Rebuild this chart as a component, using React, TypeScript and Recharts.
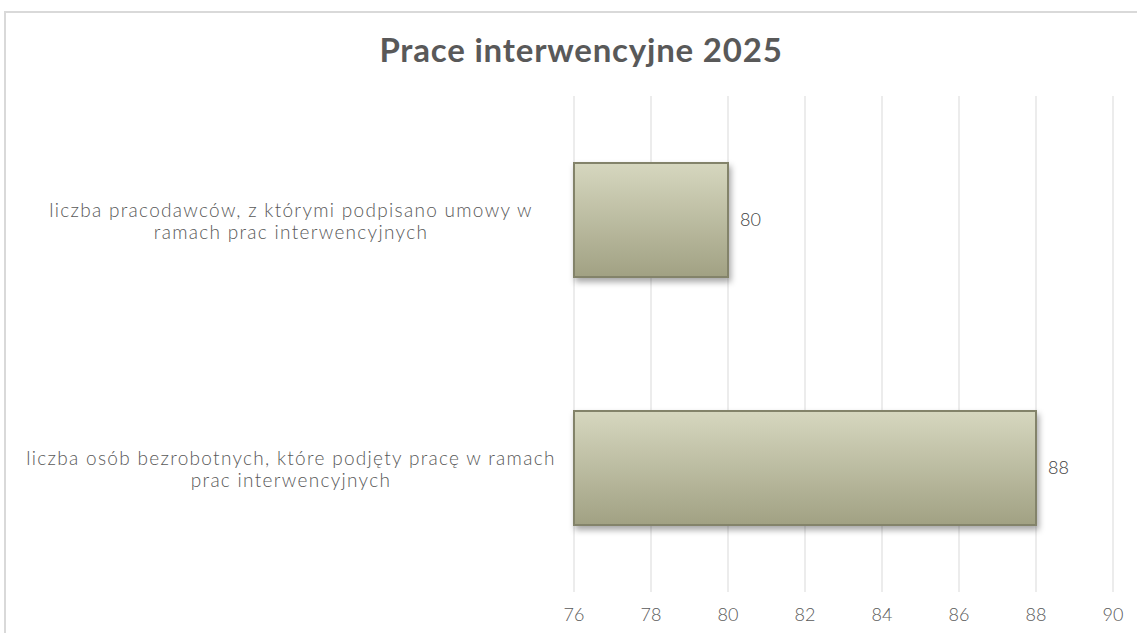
import { BarChart, Bar, XAxis, YAxis, CartesianGrid, LabelList } from 'recharts'

const categories = [
  'liczba pracodawców, z którymi podpisano umowy w|ramach prac interwencyjnych',
  'liczba osób bezrobotnych, które podjęty pracę w ramach|prac interwencyjnych',
]
const values = [80, 88]
const xTicks = [76, 78, 80, 82, 84, 86, 88, 90]

const FONT = 'Lato, "DejaVu Sans", sans-serif'
const GREY = '#595959'

const chartData = categories.map((name, i) => ({ name, value: values[i] }))

function CategoryTick({ y, payload }: any) {
  const lines = String(payload.value).split('|')
  return (
    <text
      x={291}
      y={y}
      textAnchor="middle"
      fontFamily={FONT}
      fontWeight={300}
      fontSize={19}
      letterSpacing={1.3}
      fill={GREY}
    >
      {lines.map((line, i) => (
        <tspan key={i} x={291} dy={i === 0 ? -3 : 22}>
          {line}
        </tspan>
      ))}
    </text>
  )
}

export default function App() {
  return (
    <div style={{ position: 'absolute', left: 0, top: 0, width: 1137, height: 633, overflow: 'hidden', background: '#fff' }}>
      <div
        style={{
          position: 'absolute',
          left: 4,
          top: 11,
          width: 1200,
          height: 700,
          border: '2px solid #d9d9d9',
          boxSizing: 'border-box',
        }}
      />
      <div
        style={{
          position: 'absolute',
          left: 0,
          top: 29,
          width: 1162,
          textAlign: 'center',
          fontFamily: FONT,
          fontWeight: 700,
          fontSize: 33,
          letterSpacing: 0.8,
          color: GREY,
        }}
      >
        Prace interwencyjne 2025
      </div>
      <div style={{ position: 'absolute', left: 0, top: 0 }}>
        <BarChart
          width={1137}
          height={633}
          data={chartData}
          layout="vertical"
          margin={{ top: 96, right: 24, left: 0, bottom: 0 }}
          barCategoryGap={67}
        >
          <defs>
            <linearGradient id="barFill" x1="0" y1="0" x2="0" y2="1">
              <stop offset="0%" stopColor="#d6d7bf" />
              <stop offset="100%" stopColor="#a1a183" />
            </linearGradient>
            <filter id="barShadow" x="-5%" y="-10%" width="115%" height="130%">
              <feDropShadow dx="2" dy="4" stdDeviation="3" floodColor="#000" floodOpacity="0.35" />
            </filter>
          </defs>
          <CartesianGrid horizontal={false} stroke="#d9d9d9" />
          <XAxis
            type="number"
            domain={[76, 90]}
            ticks={xTicks}
            axisLine={false}
            tickLine={false}
            height={41}
            tickMargin={10}
            tick={{ fill: GREY, fontSize: 18, fontFamily: FONT, fontWeight: 300 }}
          />
          <YAxis
            type="category"
            dataKey="name"
            width={574}
            axisLine={false}
            tickLine={false}
            tick={<CategoryTick />}
          />
          <Bar
            dataKey="value"
            fill="url(#barFill)"
            stroke="#83836a"
            strokeWidth={2}
            filter="url(#barShadow)"
            isAnimationActive={false}
          >
            <LabelList
              dataKey="value"
              position="right"
              offset={12}
              fill="#404040"
              fontSize={18}
              fontWeight={300}
              fontFamily={FONT}
            />
          </Bar>
        </BarChart>
      </div>
    </div>
  )
}
